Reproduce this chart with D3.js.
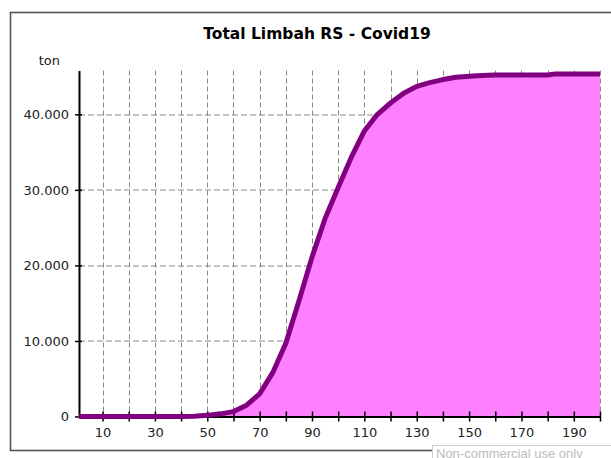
<!DOCTYPE html>
<html>
<head>
<meta charset="utf-8">
<script src="https://cdn.jsdelivr.net/npm/d3@7"></script>
<style>
  body { margin: 0; background: #fff; }
  text { font-family: "DejaVu Sans", Verdana, sans-serif; }
</style>
</head>
<body>
<div class="d3Area"></div>
<script>
// days since start and cumulative waste (ton)
let days = [1, 10, 20, 30, 40, 45, 50, 55, 60, 65, 70, 75, 80, 85, 90, 95, 100, 105, 110,
  115, 120, 125, 130, 135, 140, 145, 150, 155, 160, 170, 180, 183, 190, 200];
let limbah = [0, 0, 0, 0, 0, 30, 150, 350, 650, 1500, 3000, 5800, 9700, 15300, 21100, 26200,
  30300, 34300, 37800, 40000, 41500, 42800, 43700, 44200, 44600, 44900, 45050, 45150,
  45200, 45200, 45200, 45350, 45350, 45350];

let xTicks = [10, 20, 30, 40, 50, 60, 70, 80, 90, 100, 110, 120, 130, 140, 150, 160, 170, 180, 190, 200];
let xLabels = [10, 30, 50, 70, 90, 110, 130, 150, 170, 190];
let yTicks = [0, 10000, 20000, 30000, 40000];

let chartTitle = "Total Limbah RS - Covid19";
let yUnit = "ton";

let outerWidth = 611,
  outerHeight = 458;
let margin = { top: 70.5, right: 11, bottom: 41.5, left: 79 };
let width = outerWidth - margin.left - margin.right,
  height = outerHeight - margin.top - margin.bottom;

let data = days.map((d, i) => ({ x: d, y: limbah[i] }));

let svg = d3
  .select(".d3Area")
  .append("svg")
  .attr("width", outerWidth)
  .attr("height", outerHeight);

// outer frame
svg
  .append("rect")
  .attr("x", 10.5)
  .attr("y", 12.5)
  .attr("width", 640)
  .attr("height", 438)
  .attr("fill", "none")
  .attr("stroke", "#555")
  .attr("stroke-width", 1.6);

svg
  .append("text")
  .attr("x", 317)
  .attr("y", 39)
  .attr("text-anchor", "middle")
  .style("font-size", "15.5px")
  .style("font-weight", "bold")
  .text(chartTitle);

let g = svg
  .append("g")
  .attr("transform", "translate(" + margin.left + "," + margin.top + ")");

let x = d3.scaleLinear().domain([1, 200]).range([0, width]);
let y = d3.scaleLinear().domain([0, 45800]).range([height, 0]);

// dashed grid
g.selectAll(".vgrid")
  .data(xTicks)
  .enter()
  .append("line")
  .attr("x1", (d) => Math.round(x(d)) + 0.5)
  .attr("x2", (d) => Math.round(x(d)) + 0.5)
  .attr("y1", 0)
  .attr("y2", height)
  .attr("stroke", "#888")
  .attr("stroke-dasharray", "5,3");

g.selectAll(".hgrid")
  .data(yTicks.slice(1))
  .enter()
  .append("line")
  .attr("x1", 0)
  .attr("x2", width)
  .attr("y1", (d) => Math.round(y(d)) + 0.5)
  .attr("y2", (d) => Math.round(y(d)) + 0.5)
  .attr("stroke", "#888")
  .attr("stroke-dasharray", "6,3");

let area = d3
  .area()
  .x((d) => x(d.x))
  .y0(y(0))
  .y1((d) => y(d.y));

let line = d3
  .line()
  .x((d) => x(d.x))
  .y((d) => y(d.y));

g.append("path").datum(data).attr("d", area).attr("fill", "#ff80ff");

// axes
let xAxis = d3
  .axisBottom(x)
  .tickValues(xTicks)
  .tickSizeInner(5)
  .tickSizeOuter(0)
  .tickPadding(6)
  .tickFormat((d) => (xLabels.includes(d) ? d : ""));
let domXAxis = g
  .append("g")
  .attr("transform", "translate(0," + height + ")")
  .call(xAxis);

let yAxis = d3
  .axisLeft(y)
  .tickValues(yTicks)
  .tickSizeInner(4)
  .tickSizeOuter(0)
  .tickPadding(6)
  .tickFormat((d) => d3.format(",")(d).replace(/,/g, "."));
let domYAxis = g.append("g").call(yAxis);

[domXAxis, domYAxis].forEach((a) => {
  a.select(".domain").attr("stroke", "#000").attr("stroke-width", 2);
  a.selectAll("text").style("font-size", "13px").attr("fill", "#222");
  a.selectAll(".tick line").attr("stroke", "#000").attr("stroke-width", 1.5);
});
// ticks cross the axis line
domXAxis.selectAll(".tick line").attr("y1", -5);
domYAxis.selectAll(".tick line").attr("x1", 3);

g.append("path")
  .datum(data)
  .attr("d", line)
  .attr("fill", "none")
  .attr("stroke", "#800080")
  .attr("stroke-width", 5)
  .attr("stroke-linejoin", "round");

svg
  .append("text")
  .attr("x", 60)
  .attr("y", 65)
  .attr("text-anchor", "end")
  .style("font-size", "13px")
  .attr("fill", "#222")
  .text(yUnit);

// watermark, clipped at the bottom edge like the original
svg
  .append("rect")
  .attr("x", 432.5)
  .attr("y", 445.5)
  .attr("width", 200)
  .attr("height", 30)
  .attr("fill", "#fff")
  .attr("stroke", "#ccc");
svg
  .append("text")
  .attr("x", 436)
  .attr("y", 458)
  .style("font-family", "Liberation Sans, Arial, sans-serif")
  .style("font-size", "13px")
  .attr("fill", "#bbb")
  .text("Non-commercial use only");
</script>
</body>
</html>
